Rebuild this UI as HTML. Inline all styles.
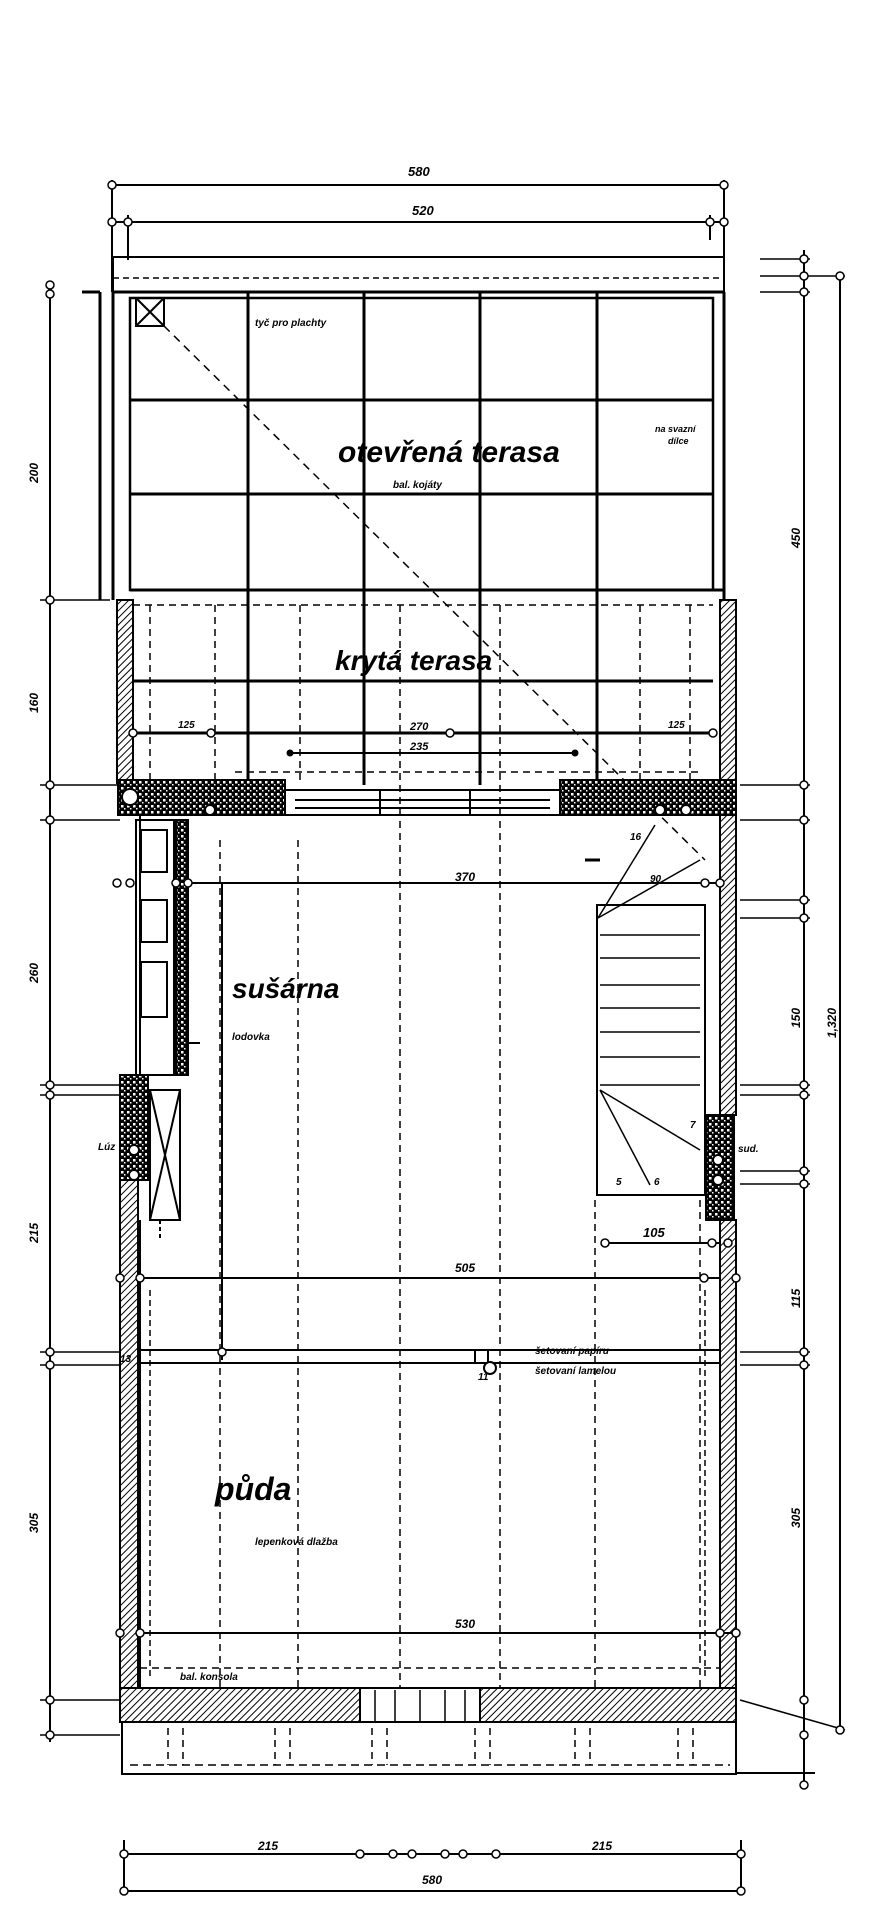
<!DOCTYPE html>
<html><head><meta charset="utf-8"><style>
html,body{margin:0;padding:0;background:#fff;width:888px;height:1920px;overflow:hidden}
svg{display:block}
text{font-family:"Liberation Sans",sans-serif;font-style:italic;font-weight:bold;fill:#000}
</style></head><body>
<svg width="888" height="1920" viewBox="0 0 888 1920" xmlns="http://www.w3.org/2000/svg">
<defs>
<pattern id="h" width="5" height="5" patternUnits="userSpaceOnUse" patternTransform="rotate(45)"><rect width="5" height="5" fill="#fff"/><line x1="0" y1="0" x2="0" y2="5" stroke="#000" stroke-width="2"/></pattern>
<pattern id="x" width="6" height="6" patternUnits="userSpaceOnUse"><rect width="6" height="6" fill="#000"/><rect x="1" y="1" width="2.5" height="2.5" fill="#fff"/><rect x="4" y="4" width="1.5" height="1.5" fill="#fff"/></pattern>
</defs>
<g stroke="#000" fill="none" stroke-width="2">
<line x1="112" y1="185" x2="724" y2="185"/>
<line x1="112" y1="222" x2="724" y2="222"/>
<line x1="112" y1="180" x2="112" y2="292"/><line x1="724" y1="180" x2="724" y2="292"/>
<line x1="128" y1="215" x2="128" y2="260"/><line x1="710" y1="215" x2="710" y2="240"/>
<rect x="113" y="257" width="611" height="35"/>
<line x1="113" y1="278" x2="724" y2="278" stroke-dasharray="6,4" stroke-width="1.5"/>
<line x1="113" y1="292" x2="724" y2="292" stroke-width="3"/>
<line x1="113" y1="292" x2="113" y2="600" stroke-width="3"/>
<line x1="724" y1="292" x2="724" y2="600" stroke-width="3"/>
<line x1="82" y1="292" x2="100" y2="292" stroke-width="3"/><line x1="100" y1="292" x2="100" y2="600" stroke-width="3"/>
<rect x="130" y="298" width="583" height="292" stroke-width="2.5"/>
<g stroke-width="3">
<line x1="248" y1="292" x2="248" y2="785"/><line x1="364" y1="292" x2="364" y2="785"/>
<line x1="480" y1="292" x2="480" y2="785"/><line x1="597" y1="292" x2="597" y2="785"/>
<line x1="130" y1="400" x2="713" y2="400"/><line x1="130" y1="494" x2="713" y2="494"/>
<line x1="130" y1="590" x2="724" y2="590"/>
<line x1="133" y1="681" x2="713" y2="681"/><line x1="133" y1="733" x2="713" y2="733"/>
</g>
<rect x="136" y="298" width="28" height="28"/><line x1="136" y1="298" x2="164" y2="326"/><line x1="164" y1="298" x2="136" y2="326"/>
<line x1="164" y1="326" x2="705" y2="860" stroke-dasharray="8,6" stroke-width="1.5"/>
<g stroke-dasharray="7,5" stroke-width="1.5">
<line x1="133" y1="605" x2="713" y2="605"/>
<line x1="150" y1="605" x2="150" y2="780"/><line x1="215" y1="605" x2="215" y2="780"/>
<line x1="300" y1="605" x2="300" y2="780"/><line x1="400" y1="605" x2="400" y2="1690"/>
<line x1="500" y1="605" x2="500" y2="1690"/><line x1="690" y1="605" x2="690" y2="780"/>
<line x1="640" y1="605" x2="640" y2="780"/>
<line x1="235" y1="772" x2="700" y2="772"/>
<line x1="220" y1="840" x2="220" y2="1690"/><line x1="298" y1="840" x2="298" y2="1690"/>
<line x1="595" y1="1200" x2="595" y2="1690"/><line x1="700" y1="1200" x2="700" y2="1690"/>
<line x1="140" y1="1668" x2="720" y2="1668"/>
<line x1="168" y1="1728" x2="168" y2="1765"/><line x1="183" y1="1728" x2="183" y2="1765"/>
<line x1="275" y1="1728" x2="275" y2="1765"/><line x1="290" y1="1728" x2="290" y2="1765"/>
<line x1="372" y1="1728" x2="372" y2="1765"/><line x1="387" y1="1728" x2="387" y2="1765"/>
<line x1="475" y1="1728" x2="475" y2="1765"/><line x1="490" y1="1728" x2="490" y2="1765"/>
<line x1="575" y1="1728" x2="575" y2="1765"/><line x1="590" y1="1728" x2="590" y2="1765"/>
<line x1="678" y1="1728" x2="678" y2="1765"/><line x1="693" y1="1728" x2="693" y2="1765"/>
</g>
<rect x="117" y="600" width="16" height="183" fill="url(#h)"/>
<rect x="720" y="600" width="16" height="183" fill="url(#h)"/>
<rect x="118" y="780" width="167" height="35" fill="url(#x)"/>
<rect x="560" y="780" width="176" height="35" fill="url(#x)"/>
<rect x="285" y="790" width="275" height="25"/>
<line x1="295" y1="800" x2="550" y2="800"/><line x1="295" y1="808" x2="550" y2="808"/>
<line x1="380" y1="790" x2="380" y2="815"/><line x1="470" y1="790" x2="470" y2="815"/>
<circle cx="130" cy="797" r="8" fill="#fff"/><circle cx="210" cy="810" r="5" fill="#fff"/>
<circle cx="660" cy="810" r="5" fill="#fff"/><circle cx="686" cy="810" r="5" fill="#fff"/>
<rect x="720" y="815" width="16" height="300" fill="url(#h)"/>
<rect x="706" y="1115" width="28" height="105" fill="url(#x)"/>
<circle cx="718" cy="1160" r="5" fill="#fff"/><circle cx="718" cy="1180" r="5" fill="#fff"/>
<rect x="120" y="1075" width="28" height="105" fill="url(#x)"/>
<circle cx="134" cy="1150" r="5" fill="#fff"/><circle cx="134" cy="1175" r="5" fill="#fff"/>
<rect x="120" y="1180" width="18" height="510" fill="url(#h)"/>
<rect x="720" y="1220" width="16" height="470" fill="url(#h)"/>
<rect x="120" y="1688" width="616" height="34" fill="url(#h)"/>
<rect x="360" y="1688" width="120" height="34" fill="#fff"/>
<g stroke-width="1.5"><line x1="375" y1="1690" x2="375" y2="1722"/><line x1="395" y1="1690" x2="395" y2="1722"/><line x1="420" y1="1690" x2="420" y2="1722"/><line x1="445" y1="1690" x2="445" y2="1722"/><line x1="465" y1="1690" x2="465" y2="1722"/></g>
<line x1="140" y1="815" x2="140" y2="1075"/>
<line x1="140" y1="1688" x2="720" y2="1688"/>
<line x1="140" y1="1220" x2="140" y2="1688"/>
<rect x="136" y="820" width="38" height="255"/>
<rect x="141" y="830" width="26" height="42"/><rect x="141" y="900" width="26" height="42"/><rect x="141" y="962" width="26" height="55"/>
<rect x="176" y="820" width="12" height="255" fill="url(#x)"/>
<rect x="150" y="1090" width="30" height="130"/><line x1="150" y1="1090" x2="180" y2="1220"/><line x1="180" y1="1090" x2="150" y2="1220"/>
<line x1="160" y1="1220" x2="160" y2="1240" stroke-dasharray="4,3"/>
<rect x="597" y="905" width="108" height="290"/>
<g stroke-width="1.5">
<line x1="600" y1="935" x2="700" y2="935"/><line x1="600" y1="958" x2="700" y2="958"/><line x1="600" y1="985" x2="700" y2="985"/><line x1="600" y1="1008" x2="700" y2="1008"/><line x1="600" y1="1032" x2="700" y2="1032"/><line x1="600" y1="1057" x2="700" y2="1057"/><line x1="600" y1="1085" x2="700" y2="1085"/>
<line x1="598" y1="918" x2="655" y2="825"/><line x1="598" y1="918" x2="700" y2="860"/>
<line x1="600" y1="1090" x2="700" y2="1150"/><line x1="600" y1="1090" x2="650" y2="1185"/>
</g>
<line x1="585" y1="860" x2="600" y2="860" stroke-width="3"/>
<line x1="186" y1="883" x2="720" y2="883"/>
<line x1="186" y1="1043" x2="200" y2="1043"/>
<line x1="222" y1="883" x2="222" y2="1360"/>
<line x1="605" y1="1243" x2="720" y2="1243"/>
<line x1="140" y1="1278" x2="720" y2="1278"/>
<line x1="140" y1="1633" x2="736" y2="1633"/>
<line x1="290" y1="753" x2="575" y2="753"/>
<rect x="140" y="1350" width="580" height="13"/>
<rect x="475" y="1350" width="13" height="13" fill="#fff"/>
<circle cx="490" cy="1368" r="6" fill="#fff"/>
<g stroke-dasharray="6,4" stroke-width="1.5"><line x1="150" y1="1290" x2="150" y2="1680"/><line x1="705" y1="1290" x2="705" y2="1680"/></g>
<rect x="122" y="1722" width="614" height="52"/>
<line x1="130" y1="1765" x2="730" y2="1765" stroke-dasharray="8,5" stroke-width="1.5"/>
<line x1="736" y1="1773" x2="815" y2="1773"/>
<line x1="124" y1="1840" x2="124" y2="1895"/><line x1="741" y1="1840" x2="741" y2="1895"/>
<line x1="124" y1="1854" x2="741" y2="1854"/>
<line x1="124" y1="1891" x2="741" y2="1891"/>
<line x1="50" y1="285" x2="50" y2="1742"/>
<g stroke-width="1.5">
<line x1="40" y1="600" x2="110" y2="600"/><line x1="40" y1="785" x2="120" y2="785"/><line x1="40" y1="820" x2="120" y2="820"/>
<line x1="40" y1="1085" x2="120" y2="1085"/><line x1="40" y1="1095" x2="120" y2="1095"/>
<line x1="40" y1="1352" x2="120" y2="1352"/><line x1="40" y1="1365" x2="120" y2="1365"/>
<line x1="40" y1="1700" x2="120" y2="1700"/><line x1="40" y1="1735" x2="120" y2="1735"/>
</g>
<line x1="804" y1="250" x2="804" y2="1785"/>
<line x1="840" y1="276" x2="840" y2="1730"/>
<g stroke-width="1.5">
<line x1="760" y1="259" x2="810" y2="259"/><line x1="760" y1="276" x2="845" y2="276"/><line x1="760" y1="292" x2="810" y2="292"/>
<line x1="740" y1="785" x2="810" y2="785"/><line x1="740" y1="820" x2="810" y2="820"/>
<line x1="740" y1="900" x2="810" y2="900"/><line x1="740" y1="918" x2="810" y2="918"/>
<line x1="740" y1="1085" x2="810" y2="1085"/><line x1="740" y1="1095" x2="810" y2="1095"/>
<line x1="740" y1="1171" x2="810" y2="1171"/><line x1="740" y1="1184" x2="810" y2="1184"/>
<line x1="740" y1="1352" x2="810" y2="1352"/><line x1="740" y1="1365" x2="810" y2="1365"/>
<line x1="740" y1="1700" x2="845" y2="1730"/>
</g>
</g>
<g fill="#fff" stroke="#000" stroke-width="1.5">
<circle cx="112" cy="185" r="4"/><circle cx="724" cy="185" r="4"/>
<circle cx="112" cy="222" r="4"/><circle cx="128" cy="222" r="4"/><circle cx="710" cy="222" r="4"/><circle cx="724" cy="222" r="4"/>
<circle cx="50" cy="285" r="4"/><circle cx="50" cy="294" r="4"/><circle cx="50" cy="600" r="4"/><circle cx="50" cy="785" r="4"/><circle cx="50" cy="820" r="4"/>
<circle cx="50" cy="1085" r="4"/><circle cx="50" cy="1095" r="4"/><circle cx="50" cy="1352" r="4"/><circle cx="50" cy="1365" r="4"/><circle cx="50" cy="1700" r="4"/><circle cx="50" cy="1735" r="4"/>
<circle cx="804" cy="259" r="4"/><circle cx="804" cy="276" r="4"/><circle cx="804" cy="292" r="4"/><circle cx="840" cy="276" r="4"/>
<circle cx="804" cy="785" r="4"/><circle cx="804" cy="820" r="4"/><circle cx="804" cy="900" r="4"/><circle cx="804" cy="918" r="4"/>
<circle cx="804" cy="1085" r="4"/><circle cx="804" cy="1095" r="4"/><circle cx="804" cy="1171" r="4"/><circle cx="804" cy="1184" r="4"/>
<circle cx="804" cy="1352" r="4"/><circle cx="804" cy="1365" r="4"/><circle cx="804" cy="1700" r="4"/><circle cx="804" cy="1735" r="4"/><circle cx="804" cy="1785" r="4"/><circle cx="840" cy="1730" r="4"/>
<circle cx="133" cy="733" r="4"/><circle cx="211" cy="733" r="4"/><circle cx="450" cy="733" r="4"/><circle cx="713" cy="733" r="4"/>
<circle cx="117" cy="883" r="4"/><circle cx="130" cy="883" r="4"/><circle cx="176" cy="883" r="4"/><circle cx="188" cy="883" r="4"/><circle cx="705" cy="883" r="4"/><circle cx="720" cy="883" r="4"/>
<circle cx="120" cy="1278" r="4"/><circle cx="140" cy="1278" r="4"/><circle cx="704" cy="1278" r="4"/><circle cx="736" cy="1278" r="4"/>
<circle cx="605" cy="1243" r="4"/><circle cx="712" cy="1243" r="4"/><circle cx="728" cy="1243" r="4"/>
<circle cx="222" cy="1352" r="4"/>
<circle cx="120" cy="1633" r="4"/><circle cx="140" cy="1633" r="4"/><circle cx="720" cy="1633" r="4"/><circle cx="736" cy="1633" r="4"/>
<circle cx="124" cy="1854" r="4"/><circle cx="360" cy="1854" r="4"/><circle cx="393" cy="1854" r="4"/><circle cx="412" cy="1854" r="4"/><circle cx="445" cy="1854" r="4"/><circle cx="463" cy="1854" r="4"/><circle cx="496" cy="1854" r="4"/><circle cx="741" cy="1854" r="4"/>
<circle cx="124" cy="1891" r="4"/><circle cx="741" cy="1891" r="4"/>
</g>
<g fill="#000"><circle cx="290" cy="753" r="3.5"/><circle cx="575" cy="753" r="3.5"/></g>
<text x="338" y="462" font-size="30">otevřená terasa</text>
<text x="393" y="488" font-size="10">bal. kojáty</text>
<text x="255" y="326" font-size="10">tyč pro plachty</text>
<text x="655" y="432" font-size="9">na svazní</text><text x="668" y="444" font-size="9">dílce</text>
<text x="335" y="670" font-size="28">krytá terasa</text>
<text x="232" y="998" font-size="28">sušárna</text>
<text x="232" y="1040" font-size="10">lodovka</text>
<text x="215" y="1500" font-size="32">půda</text>
<text x="255" y="1545" font-size="10">lepenková dlažba</text>
<text x="180" y="1680" font-size="10">bal. konsola</text>
<text x="535" y="1354" font-size="10">šetovaní papíru</text>
<text x="535" y="1374" font-size="10">šetovaní lamelou</text>
<text x="455" y="881" font-size="12">370</text>
<text x="410" y="750" font-size="11">235</text><text x="410" y="730" font-size="11">270</text>
<text x="178" y="728" font-size="10">125</text><text x="668" y="728" font-size="10">125</text>
<text x="412" y="215" font-size="13">520</text><text x="408" y="176" font-size="13">580</text>
<text x="643" y="1237" font-size="13">105</text>
<text x="455" y="1272" font-size="12">505</text>
<text x="455" y="1628" font-size="12">530</text>
<text x="258" y="1850" font-size="12">215</text><text x="592" y="1850" font-size="12">215</text>
<text x="422" y="1884" font-size="12">580</text>
<text x="25" y="470" font-size="12" transform="rotate(-90 38 470)">200</text>
<text x="25" y="700" font-size="12" transform="rotate(-90 38 700)">160</text>
<text x="25" y="970" font-size="12" transform="rotate(-90 38 970)">260</text>
<text x="25" y="1230" font-size="12" transform="rotate(-90 38 1230)">215</text>
<text x="25" y="1520" font-size="12" transform="rotate(-90 38 1520)">305</text>
<text x="792" y="540" font-size="12" transform="rotate(-90 800 540)">450</text>
<text x="792" y="1020" font-size="12" transform="rotate(-90 800 1020)">150</text>
<text x="792" y="1300" font-size="12" transform="rotate(-90 800 1300)">115</text>
<text x="792" y="1520" font-size="12" transform="rotate(-90 800 1520)">305</text>
<text x="828" y="1030" font-size="12" transform="rotate(-90 836 1030)">1,320</text>
<text x="120" y="1362" font-size="10">13</text><text x="478" y="1380" font-size="10">11</text>
<text x="690" y="1128" font-size="10">7</text><text x="616" y="1185" font-size="10">5</text><text x="654" y="1185" font-size="10">6</text>
<text x="630" y="840" font-size="10">16</text><text x="650" y="882" font-size="10">90</text>
<text x="98" y="1150" font-size="10">Lúz</text><text x="738" y="1152" font-size="10">sud.</text>
</svg>
</body></html>
